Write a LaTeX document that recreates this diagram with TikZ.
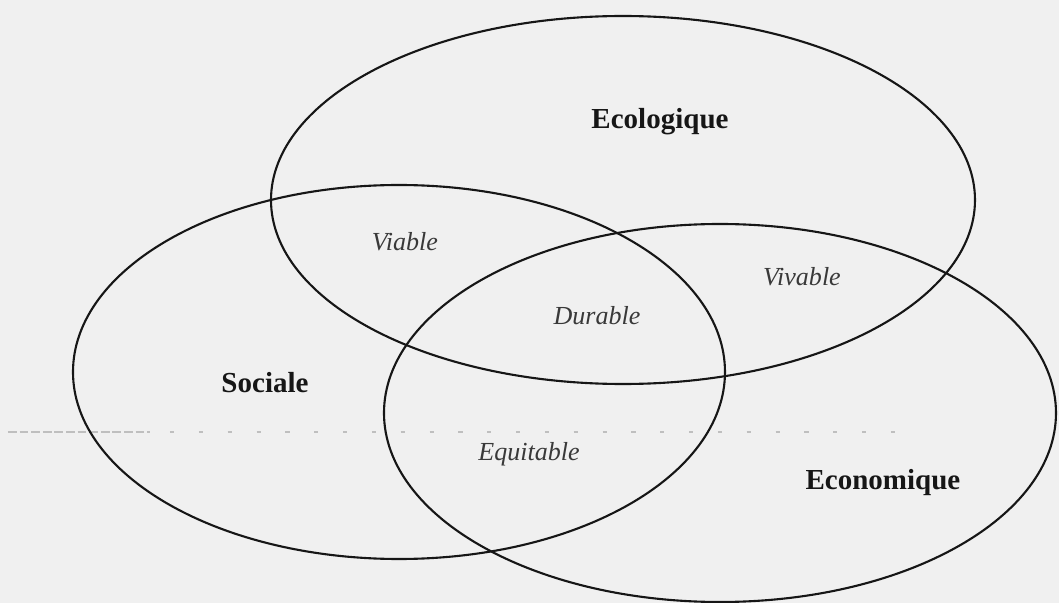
\documentclass[tikz,border=0pt]{standalone}
\usepackage{fontspec}
\setmainfont{Liberation Serif}
\definecolor{paper}{RGB}{240,240,240}
\definecolor{ink}{RGB}{22,22,22}
\begin{document}
\begin{tikzpicture}[x=0.01cm,y=-0.01cm,
    pilier/.style={draw=ink,line width=0.6pt},
    nompilier/.style={anchor=base,text=ink,font=\fontsize{8.25}{10}\selectfont\bfseries},
    zone/.style={anchor=base,text=ink!85,font=\fontsize{7.4}{9}\selectfont\itshape},
    trace/.style={draw=gray!50,line width=0.3pt}]
\fill[paper](0,0) rectangle (1059,603);
\useasboundingbox (0,0) rectangle (1059,603);

% trait parasite
\draw[trace,dash pattern=on 2.5pt off 0.8pt](8,432)--(150,432);
\draw[trace,dash pattern=on 1.2pt off 7pt](170,432)--(900,432);

% les trois piliers
\draw[pilier](623,200) ellipse [x radius=352,y radius=184];
\draw[pilier](399,372) ellipse [x radius=326,y radius=187];
\draw[pilier](720,413) ellipse [x radius=336,y radius=189];

\node[nompilier](ecolo) at (660,129){Ecologique};
\node[nompilier](social) at (265,393){Sociale};
\node[nompilier](econo) at (883,490){Economique};

% intersections
\node[zone](viable) at (405,251){Viable};
\node[zone](vivable) at (802,286){Vivable};
\node[zone](durable) at (597,324){Durable};
\node[zone](equitable) at (529,461){Equitable};

\end{tikzpicture}
\end{document}
